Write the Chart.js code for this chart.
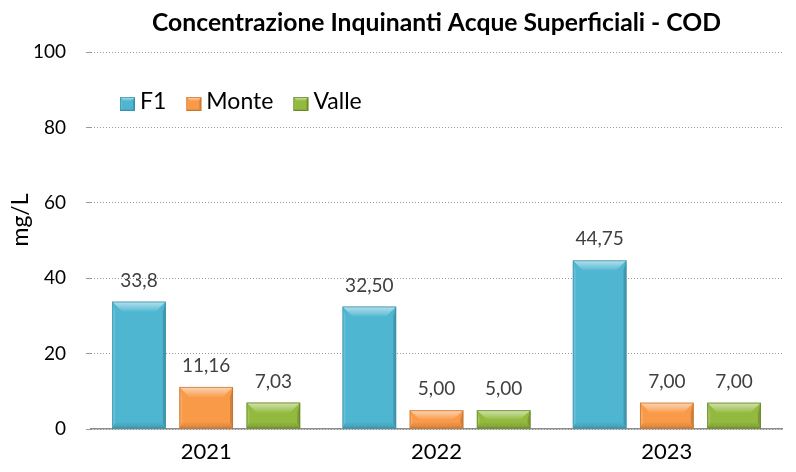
<!DOCTYPE html>
<html><head><meta charset="utf-8">
<script src="https://cdn.jsdelivr.net/npm/chart.js@4.4.0/dist/chart.umd.min.js"></script>
<style>html,body{margin:0;padding:0;background:#fff}#wrap{width:796px;height:472px}</style>
</head><body><div id="wrap"><canvas id="c" width="796" height="472"></canvas></div>
<script>
const categories = ['2021', '2022', '2023'];
const seriesNames = ['F1', 'Monte', 'Valle'];
const f1Values = [33.8, 32.5, 44.75];
const monteValues = [11.16, 5.0, 7.0];
const valleValues = [7.03, 5.0, 7.0];
const f1Labels = ['33,8', '32,50', '44,75'];
const monteLabels = ['11,16', '5,00', '7,00'];
const valleLabels = ['7,03', '5,00', '7,00'];
const yTicks = [0, 20, 40, 60, 80, 100];
const titleText = 'Concentrazione Inquinanti Acque Superficiali - COD';
const yTitle = 'mg/L';

const FONT = 'Lato, "Open Sans", sans-serif';
const colors = ['#4EB6D1', '#F99A48', '#93BA3F'];
const edge = ['#3A8DA5', '#C46F2A', '#5E7E24'];

function bevel(ctx, l, t, r, b, base, dark, bv) {
  ctx.save();
  ctx.fillStyle = base; ctx.fillRect(l, t, r - l, b - t);
  const poly = (pts, fill) => { ctx.beginPath(); ctx.moveTo(pts[0][0], pts[0][1]); for (let i = 1; i < pts.length; i++) ctx.lineTo(pts[i][0], pts[i][1]); ctx.closePath(); ctx.fillStyle = fill; ctx.fill(); };
  const h = b - t;
  const bb = Math.min(bv, h / 2), bw = Math.min(bv, (r - l) / 2);
  const sw = Math.max(2, bw * 0.3);
  const sb = Math.min(bv * 0.6, h / 2);
  const gTop = ctx.createLinearGradient(0, t, 0, t + bb);
  gTop.addColorStop(0, 'rgba(255,255,255,0.6)');
  gTop.addColorStop(1, 'rgba(255,255,255,0.05)');
  poly([[l, t], [r, t], [r - bw, t + bb], [l + bw, t + bb]], gTop);
  poly([[l, t], [l + sw, t + bb], [l + sw, b - sb], [l, b]], 'rgba(255,255,255,0.14)');
  poly([[r, t], [r, b], [r - sw, b - sb], [r - sw, t + bb]], 'rgba(0,0,0,0.16)');
  const gBot = ctx.createLinearGradient(0, b - sb, 0, b);
  gBot.addColorStop(0, 'rgba(0,0,0,0.02)');
  gBot.addColorStop(1, 'rgba(0,0,0,0.16)');
  poly([[l, b], [l + sw, b - sb], [r - sw, b - sb], [r, b]], gBot);
  ctx.strokeStyle = dark; ctx.globalAlpha = 0.7; ctx.lineWidth = 1; ctx.strokeRect(l + 0.5, t + 0.5, r - l - 1, b - t - 1);
  ctx.restore();
}

const valueLabels = [f1Labels, monteLabels, valleLabels];

const decor = {
  id: 'decor',
  afterDatasetsDraw(chart) {
    const ctx = chart.ctx;
    chart.data.datasets.forEach((ds, di) => {
      const meta = chart.getDatasetMeta(di);
      meta.data.forEach((bar, i) => {
        const l = bar.x - bar.width / 2, r = bar.x + bar.width / 2;
        bevel(ctx, l, bar.y, r, bar.base, colors[di], edge[di], 10);
        ctx.save();
        ctx.fillStyle = '#404040';
        ctx.font = '19px ' + FONT;
        ctx.textAlign = 'center'; ctx.textBaseline = 'middle';
        ctx.fillText(valueLabels[di][i], bar.x, bar.y - 21);
        ctx.restore();
      });
    });
  },
  afterDraw(chart) {
    const ctx = chart.ctx, a = chart.chartArea;
    ctx.save();
    ctx.fillStyle = '#000';
    ctx.font = 'bold 24.7px ' + FONT;
    ctx.textAlign = 'center'; ctx.textBaseline = 'middle';
    ctx.fillText(titleText, (a.left + a.right) / 2, 23);
    // y axis title
    ctx.save();
    ctx.translate(21, 220);
    ctx.rotate(-Math.PI / 2);
    ctx.font = '23px ' + FONT;
    ctx.fillText(yTitle, 0, 0);
    ctx.restore();
    // legend
    ctx.font = '23px ' + FONT;
    ctx.textAlign = 'left';
    let x = a.left + 29;
    const y = 104;
    chart.data.datasets.forEach((ds, di) => {
      bevel(ctx, x, y - 7, x + 15, y + 7, colors[di], edge[di], 4);
      ctx.fillStyle = '#000';
      ctx.fillText(ds.label, x + 20, y - 2);
      x += 20 + ctx.measureText(ds.label).width + 20;
    });
    ctx.restore();
  }
};

new Chart(document.getElementById('c'), {
  type: 'bar',
  data: {
    labels: categories,
    datasets: [
      { label: seriesNames[0], data: f1Values, backgroundColor: 'rgba(0,0,0,0)' },
      { label: seriesNames[1], data: monteValues, backgroundColor: 'rgba(0,0,0,0)' },
      { label: seriesNames[2], data: valleValues, backgroundColor: 'rgba(0,0,0,0)' }
    ]
  },
  options: {
    responsive: false,
    animation: false,
    devicePixelRatio: 1,
    layout: { padding: { top: 52, right: 14, bottom: 0, left: 2 } },
    datasets: { bar: { categoryPercentage: 0.875, barPercentage: 0.8 } },
    plugins: { legend: { display: false }, tooltip: { enabled: false }, title: { display: false } },
    scales: {
      x: {
        afterFit(scale) { scale.height = 43; },
        grid: { display: false },
        border: { display: true, color: '#8c8c8c', width: 1.5 },
        ticks: { color: '#000', font: { family: FONT, size: 22 }, padding: 2 }
      },
      y: {
        min: 0, max: 100,
        afterFit(scale) { scale.width = 89; },
        afterBuildTicks(scale) { scale.ticks = yTicks.map(v => ({ value: v })); },
        grid: { color: '#9a9a9a', lineWidth: 1, drawTicks: true, tickLength: 5 },
        border: { display: false, dash: [1, 2] },
        ticks: { color: '#000', font: { family: FONT, size: 19 }, padding: 20 },
        title: { display: false }
      }
    }
  },
  plugins: [decor]
});
</script></body></html>
